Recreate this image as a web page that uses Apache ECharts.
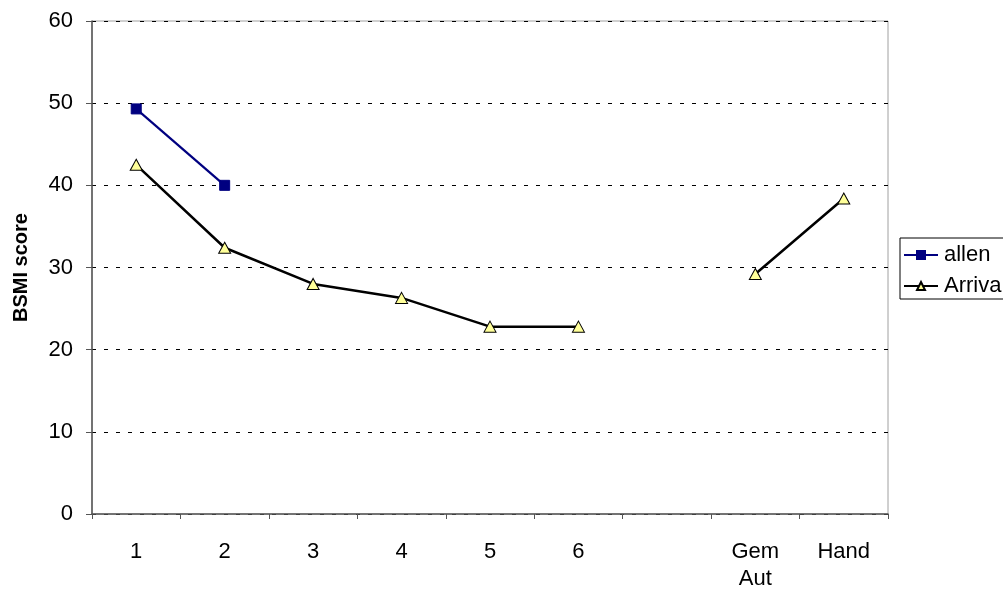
<!DOCTYPE html>
<html>
<head>
<meta charset="utf-8">
<script src="https://cdn.jsdelivr.net/npm/echarts@6/dist/echarts.min.js"></script>
<style>
  html, body { margin: 0; padding: 0; background: #fff; }
  #chart { width: 1003px; height: 589px; }
</style>
</head>
<body>
<div id="chart"></div>
<script>
// Categories along the x axis (one empty slot before the last two groups)
var categories = ['1', '2', '3', '4', '5', '6', '', 'Gem\nAut', 'Hand'];

// BSMI scores per series
var allenValues = [49.3, 40.0, null, null, null, null, null, null, null];
var arrivaValues = [42.5, 32.4, 28.0, 26.3, 22.8, 22.8, null, 29.2, 38.4];

// Y axis range
var yMin = 0;
var yMax = 60;
var yStep = 10;

var chart = echarts.init(document.getElementById('chart'));
var font = 'Liberation Sans, Arial, sans-serif';

chart.setOption({
  animation: false,
  backgroundColor: '#ffffff',
  grid: {
    left: 92, right: 115, top: 21, bottom: 75,
    outerBoundsMode: 'none',
    containLabel: false,
    show: true, borderColor: '#a0a0a0', borderWidth: 1
  },
  legend: {
    left: 900, top: 238,
    orient: 'vertical',
    itemWidth: 34, itemHeight: 10, itemGap: 9,
    padding: [6, 10, 2, 3],
    borderColor: '#000', borderWidth: 1,
    backgroundColor: '#fff',
    textStyle: { fontFamily: font, fontSize: 22, color: '#000', padding: [0, 0, 0, 1] },
    data: ['allen', 'Arriva']
  },
  xAxis: {
    type: 'category',
    data: categories,
    boundaryGap: true,
    axisLine: { lineStyle: { color: '#555', width: 1.5 } },
    axisTick: { show: true, alignWithLabel: false, length: 5, inside: false, lineStyle: { color: '#555' } },
    axisLabel: { fontFamily: font, fontSize: 22, color: '#000', margin: 24, lineHeight: 27, interval: 0 },
    splitLine: { show: false }
  },
  yAxis: {
    type: 'value',
    min: yMin, max: yMax, interval: yStep,
    name: 'BSMI score',
    nameLocation: 'middle',
    nameGap: 61,
    nameRotate: 90,
    nameTextStyle: { fontFamily: font, fontSize: 20, fontWeight: 'bold', color: '#000' },
    axisLine: { show: true, lineStyle: { color: '#555', width: 1.5 } },
    axisTick: { show: true, length: 6, lineStyle: { color: '#555' } },
    axisLabel: { fontFamily: font, fontSize: 22, color: '#000', margin: 19 },
    splitLine: { show: true, lineStyle: { color: '#000', type: [4, 8], width: 1 } }
  },
  series: [
    {
      name: 'allen',
      type: 'line',
      data: allenValues,
      connectNulls: false,
      symbol: 'rect',
      symbolSize: 10,
      itemStyle: { color: '#000080', borderColor: '#000080', borderWidth: 1 },
      lineStyle: { color: '#000080', width: 2.2 },
      z: 3
    },
    {
      name: 'Arriva',
      type: 'line',
      data: arrivaValues,
      connectNulls: false,
      symbol: 'triangle',
      symbolSize: [12, 11],
      itemStyle: { color: '#ffff99', borderColor: '#000', borderWidth: 1 },
      lineStyle: { color: '#000', width: 2.5 },
      z: 2
    }
  ]
});
</script>
</body>
</html>
